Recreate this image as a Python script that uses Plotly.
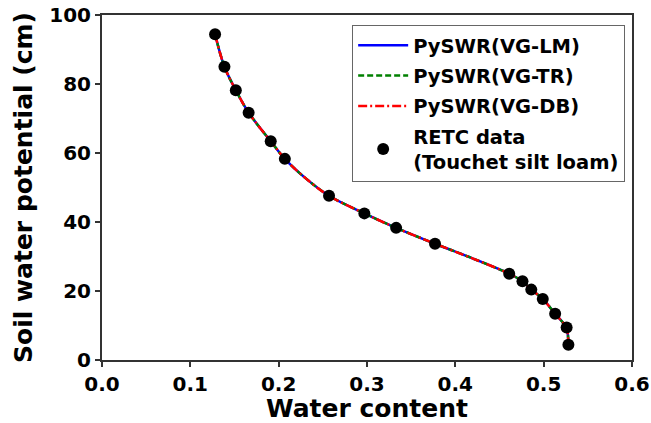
import plotly.graph_objects as go

# RETC data (Touchet silt loam)
data_theta = [0.128, 0.1386, 0.1515, 0.166, 0.191, 0.207, 0.257, 0.297, 0.333, 0.377,
              0.461, 0.476, 0.486, 0.499, 0.513, 0.526, 0.528]
data_h = [94.4, 85.0, 78.2, 71.7, 63.4, 58.3, 47.6, 42.5, 38.3, 33.7,
          25.0, 22.8, 20.4, 17.7, 13.4, 9.4, 4.4]

# fitted curve
curve_theta = [0.128, 0.1386, 0.1515, 0.166, 0.191, 0.207, 0.230, 0.257, 0.297, 0.333,
               0.377, 0.420, 0.461, 0.476, 0.486, 0.499, 0.513, 0.522, 0.526, 0.528]
curve_h = [94.4, 85.0, 78.2, 71.7, 63.4, 58.3, 52.8, 47.6, 42.5, 38.3,
           33.7, 29.4, 25.0, 22.8, 20.4, 17.7, 13.4, 10.8, 9.4, 4.4]

font_family = "DejaVu Sans"

fig = go.Figure()
fig.add_trace(go.Scatter(x=curve_theta, y=curve_h, mode="lines", name="PySWR(VG-LM)",
                         line=dict(color="#0000ff", width=2.5, shape="spline"),
                         legendgroup="a"))
fig.add_trace(go.Scatter(x=curve_theta, y=curve_h, mode="lines", name="PySWR(VG-TR)",
                         line=dict(color="#008000", width=2.5, dash="6px,3px", shape="spline"),
                         legendgroup="b"))
fig.add_trace(go.Scatter(x=curve_theta, y=curve_h, mode="lines", name="PySWR(VG-DB)",
                         line=dict(color="#ff0000", width=2.5, dash="9px,3px,2px,3px", shape="spline"),
                         legendgroup="c"))
fig.add_trace(go.Scatter(x=data_theta, y=data_h, mode="markers",
                         name="RETC data<br>(Touchet silt loam)",
                         marker=dict(color="black", size=12),
                         legendgroup="d"))

axis_common = dict(showline=True, linecolor="#333333", linewidth=2, mirror=True,
                   ticks="outside", ticklen=5, tickwidth=1.5, tickcolor="#333333",
                   showgrid=False, zeroline=False, automargin=False,
                   tickfont=dict(family=font_family, size=20, color="black", weight="bold"))

fig.update_layout(
    width=651, height=423,
    margin=dict(l=102, r=19, t=15, b=63),
    paper_bgcolor="white", plot_bgcolor="white",
    xaxis=dict(range=[0, 0.6], tickvals=[0, 0.1, 0.2, 0.3, 0.4, 0.5, 0.6],
               ticktext=["0.0", "0.1", "0.2", "0.3", "0.4", "0.5", "0.6"],
               title=dict(text="Water content", standoff=3,
                          font=dict(family=font_family, size=25, color="black", weight="bold")),
               **axis_common),
    yaxis=dict(range=[0, 100], tickvals=[0, 20, 40, 60, 80, 100],
               title=dict(text="Soil water potential (cm)", standoff=10,
                          font=dict(family=font_family, size=25, color="black", weight="bold")),
               **axis_common),
    legend=dict(x=0.472, y=0.971, xanchor="left", yanchor="top",
                bgcolor="white", bordercolor="#666666", borderwidth=1,
                tracegroupgap=2, itemwidth=50,
                font=dict(family=font_family, size=19.5, color="black", weight="bold")),
    showlegend=True,
)

fig.write_html("out.html", config={"displayModeBar": False},
               post_script="document.body.style.margin='0';")
